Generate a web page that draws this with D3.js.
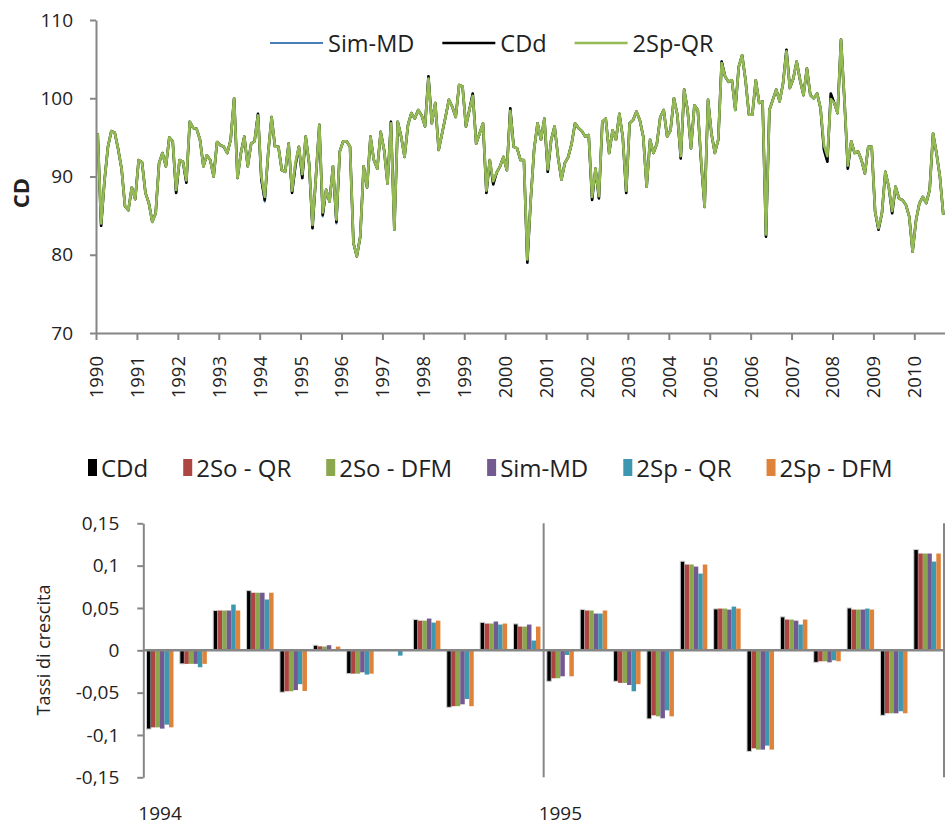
<!DOCTYPE html>
<html>
<head>
<meta charset="utf-8">
<script src="https://cdn.jsdelivr.net/npm/d3@7"></script>
<style>
  body { margin: 0; background: #fff; }
  svg { display: block; }
  text { font-family: "Open Sans", sans-serif; fill: #222; }
</style>
</head>
<body>
<svg id="chart" width="945" height="825"></svg>
<script>
// ---- Monthly CD index, Jan 1990 – Sep 2010 ----
const yearLabels = ["1990","1991","1992","1993","1994","1995","1996","1997","1998","1999","2000",
                    "2001","2002","2003","2004","2005","2006","2007","2008","2009","2010"];
const levelTicks = [70, 80, 90, 100, 110];

const cdd = [
  95.5, 83.7, 89.5, 93.8, 95.8, 95.6, 93.5, 91.0, 86.2, 85.7, 88.6, 87.1,
  92.1, 91.8, 87.9, 86.6, 84.2, 85.3, 91.7, 93.0, 91.3, 95.0, 94.5, 87.9,
  92.1, 91.9, 89.2, 97.0, 96.2, 96.1, 94.7, 91.3, 92.7, 92.1, 90.0, 94.4,
  94.0, 93.8, 93.0, 94.7, 100.0, 89.8, 93.0, 95.1, 91.3, 94.2, 94.5, 98.0,
  89.6, 87.0, 93.0, 97.6, 93.8, 93.8, 90.8, 90.6, 94.2, 87.9, 91.5, 93.8,
  89.8, 95.1, 91.7, 83.4, 90.0, 96.6, 85.1, 88.3, 86.8, 91.3, 84.2, 93.2,
  94.5, 94.5, 93.8, 81.5, 79.8, 82.3, 91.3, 88.6, 95.1, 92.1, 91.0, 95.7,
  93.4, 89.1, 97.0, 83.2, 97.0, 95.1, 92.5, 96.6, 98.1, 97.4, 98.5, 97.8,
  96.4, 102.8, 96.8, 99.4, 93.4, 95.5, 97.6, 99.8, 98.9, 97.6, 101.7, 101.5,
  96.4, 98.5, 100.6, 94.2, 95.5, 96.8, 87.9, 92.1, 89.0, 90.5, 91.3, 92.5,
  90.8, 98.7, 93.8, 93.6, 92.1, 92.1, 79.0, 87.0, 93.5, 96.8, 94.7, 97.4,
  90.6, 94.7, 96.4, 92.5, 89.6, 91.7, 92.5, 94.2, 96.8, 96.2, 95.8, 95.1,
  95.3, 87.0, 91.0, 87.2, 97.0, 97.4, 93.0, 95.9, 94.7, 98.0, 95.0, 87.9,
  96.8, 97.2, 98.3, 97.2, 95.1, 88.7, 94.7, 93.0, 94.2, 97.6, 98.5, 95.1,
  95.9, 100.0, 97.9, 92.3, 101.1, 98.5, 93.6, 99.1, 98.5, 91.7, 86.1, 99.8,
  95.5, 93.0, 94.7, 104.7, 102.8, 102.1, 102.3, 98.5, 104.0, 105.5, 102.3, 97.9,
  97.9, 102.3, 99.4, 99.6, 82.3, 98.5, 99.8, 101.1, 99.6, 101.9, 106.2, 101.3,
  102.5, 104.7, 102.3, 100.4, 103.8, 100.4, 100.0, 100.6, 98.7, 93.4, 91.9, 100.6,
  99.4, 98.1, 107.5, 99.8, 91.0, 94.5, 93.0, 93.2, 92.1, 90.4, 93.8, 93.8,
  85.5, 83.2, 85.3, 90.6, 88.7, 85.3, 88.7, 87.2, 87.0, 86.4, 84.9, 80.4,
  84.4, 86.6, 87.4, 86.6, 88.3, 95.5, 93.0, 90.0, 85.1
];

const simMd = [
  95.5, 83.7, 89.5, 93.8, 95.8, 95.6, 93.5, 91.0, 86.2, 85.7, 88.6, 87.1,
  92.1, 91.8, 87.9, 86.6, 84.2, 85.3, 91.7, 93.0, 91.3, 95.0, 94.5, 87.9,
  92.1, 91.9, 89.2, 97.0, 96.2, 96.1, 94.7, 91.3, 92.7, 92.1, 90.0, 94.4,
  94.0, 93.8, 93.0, 94.7, 100.0, 89.8, 93.0, 95.1, 91.3, 94.2, 94.5, 98.0,
  89.6, 86.8, 93.0, 97.6, 93.8, 93.8, 90.8, 90.6, 94.2, 87.9, 91.2, 93.8,
  89.8, 95.1, 91.7, 83.4, 90.0, 96.6, 84.9, 88.3, 86.8, 91.3, 84.0, 93.2,
  94.5, 94.5, 93.8, 81.5, 79.8, 82.3, 91.3, 88.6, 95.1, 92.1, 91.0, 95.7,
  93.4, 89.1, 97.0, 83.2, 97.0, 95.1, 92.5, 96.6, 98.1, 97.4, 98.5, 97.8,
  96.4, 102.8, 96.8, 99.4, 93.4, 95.5, 97.6, 99.8, 98.9, 97.6, 101.7, 101.5,
  96.4, 98.5, 100.6, 94.2, 95.5, 96.8, 87.9, 92.1, 89.0, 90.5, 91.3, 92.5,
  90.8, 98.7, 93.8, 93.6, 92.1, 92.1, 79.0, 87.0, 93.5, 96.8, 94.7, 97.4,
  90.6, 94.7, 96.4, 92.5, 89.6, 91.7, 92.5, 94.2, 96.8, 96.2, 95.8, 95.1,
  95.3, 87.0, 91.0, 87.2, 97.0, 97.4, 93.0, 95.9, 94.7, 98.0, 95.0, 87.9,
  96.8, 97.2, 98.3, 97.2, 95.1, 88.7, 94.7, 93.0, 94.2, 97.6, 98.5, 95.1,
  95.9, 100.0, 97.9, 92.3, 101.1, 98.5, 93.6, 99.1, 98.5, 91.7, 86.1, 99.8,
  95.5, 93.0, 94.7, 104.7, 102.8, 102.1, 102.3, 98.5, 104.0, 105.5, 102.3, 97.9,
  97.9, 102.3, 99.4, 99.6, 82.3, 98.5, 99.8, 101.1, 99.6, 101.9, 106.2, 101.3,
  102.5, 104.7, 102.3, 100.4, 103.8, 100.4, 100.0, 100.6, 98.7, 93.4, 91.9, 100.6,
  99.4, 98.1, 107.5, 99.8, 91.0, 94.5, 93.0, 93.2, 92.1, 90.4, 93.8, 93.8,
  85.5, 83.2, 85.3, 90.6, 88.7, 85.3, 88.7, 87.2, 87.0, 86.4, 84.9, 80.4,
  84.4, 86.6, 87.4, 86.6, 88.3, 95.5, 93.0, 90.0, 85.1
];

const sp2Qr = [
  95.5, 84.0, 89.5, 93.8, 95.8, 95.6, 93.5, 91.0, 86.2, 85.7, 88.6, 87.1,
  92.1, 91.8, 87.9, 86.6, 84.2, 85.3, 91.7, 93.0, 91.3, 95.0, 94.5, 88.3,
  92.1, 91.9, 89.5, 97.0, 96.2, 96.1, 94.7, 91.3, 92.7, 92.1, 90.0, 94.4,
  94.0, 93.8, 93.0, 94.7, 100.0, 89.8, 93.0, 95.1, 91.3, 94.2, 94.5, 97.8,
  90.0, 87.4, 93.0, 97.6, 93.8, 93.8, 90.8, 90.6, 94.2, 88.2, 91.8, 93.8,
  90.3, 95.1, 91.7, 83.8, 90.0, 96.6, 85.4, 88.3, 86.8, 91.3, 84.5, 93.2,
  94.5, 94.5, 93.8, 81.5, 79.8, 82.3, 91.3, 88.6, 95.1, 92.1, 91.0, 95.7,
  93.4, 89.1, 96.8, 83.2, 97.0, 95.1, 92.5, 96.6, 98.1, 97.4, 98.5, 97.8,
  96.4, 102.5, 96.8, 99.4, 93.4, 95.5, 97.6, 99.8, 98.9, 97.6, 101.7, 101.5,
  96.4, 98.5, 100.3, 94.2, 95.5, 96.8, 88.2, 92.1, 89.4, 90.5, 91.3, 92.5,
  90.8, 98.4, 93.8, 93.6, 92.1, 92.1, 79.4, 87.0, 93.5, 96.8, 94.7, 97.4,
  90.9, 94.7, 96.4, 92.5, 89.6, 91.7, 92.5, 94.2, 96.8, 96.2, 95.8, 95.1,
  95.3, 87.4, 91.0, 87.5, 97.0, 97.4, 93.0, 95.9, 94.7, 98.0, 95.0, 88.2,
  96.8, 97.2, 98.3, 97.2, 95.1, 88.7, 94.7, 93.0, 94.2, 97.6, 98.5, 95.1,
  95.9, 100.0, 97.9, 92.6, 101.1, 98.5, 93.6, 99.1, 98.5, 92.0, 86.1, 99.8,
  95.5, 93.0, 94.7, 104.5, 102.8, 102.1, 102.3, 98.5, 104.0, 105.5, 102.3, 97.9,
  97.9, 102.3, 99.4, 99.6, 82.6, 98.5, 99.8, 101.1, 99.6, 101.9, 106.0, 101.3,
  102.5, 104.7, 102.3, 100.4, 103.8, 100.4, 100.0, 100.6, 98.7, 94.0, 92.6, 99.9,
  99.4, 98.1, 107.5, 99.8, 91.4, 94.5, 93.0, 93.2, 92.1, 90.4, 93.8, 93.8,
  85.5, 83.4, 85.3, 90.6, 88.7, 85.6, 88.7, 87.2, 87.0, 86.4, 84.9, 80.4,
  84.4, 86.6, 87.4, 86.6, 88.3, 95.5, 93.0, 90.0, 85.1
];

// ---- Monthly growth rates, 1994–1995 ----
const growthYears = ["1994", "1995"];
const growthMonths = ["gen","feb","mar","apr","mag","giu","lug","ago","set","ott","nov","dic",
                      "gen","feb","mar","apr","mag","giu","lug","ago","set","ott","nov","dic"];
const rateTicks = [-0.15, -0.1, -0.05, 0, 0.05, 0.1, 0.15];
const rateTickLabels = ["-0,15", "-0,1", "-0,05", "0", "0,05", "0,1", "0,15"];

const gCDd   = [-0.093, -0.016, 0.047, 0.0705, -0.0495, 0.006, -0.0276, 0, 0.0363, -0.0673, 0.033, 0.0312,
                -0.0366, 0.0481, -0.0366, -0.081, 0.1052, 0.0489, -0.1194, 0.0395, -0.0142, 0.050, -0.0768, 0.119];
const gSoQR  = [-0.091, -0.016, 0.047, 0.068, -0.0484, 0.0047, -0.0276, 0, 0.035, -0.066, 0.0316, 0.028,
                -0.033, 0.047, -0.0385, -0.0768, 0.1013, 0.0493, -0.1158, 0.0363, -0.013, 0.0481, -0.0744, 0.1143];
const gSoDFM = [-0.091, -0.016, 0.047, 0.068, -0.0484, 0.0044, -0.0276, 0, 0.035, -0.066, 0.0316, 0.028,
                -0.033, 0.047, -0.0385, -0.078, 0.1013, 0.0493, -0.1173, 0.0363, -0.013, 0.0481, -0.0744, 0.1143];
const gSimMD = [-0.0925, -0.016, 0.047, 0.068, -0.047, 0.006, -0.026, 0, 0.0375, -0.0638, 0.034, 0.0304,
                -0.0307, 0.0434, -0.041, -0.0803, 0.0989, 0.0481, -0.1173, 0.035, -0.0142, 0.0481, -0.0744, 0.1143];
const gSpQR  = [-0.0878, -0.020, 0.054, 0.060, -0.040, 0, -0.0287, -0.0063, 0.0327, -0.0575, 0.0304, 0.0115,
                -0.0055, 0.0434, -0.0484, -0.0709, 0.0906, 0.0516, -0.1126, 0.0304, -0.0118, 0.0493, -0.072, 0.1048];
const gSpDFM = [-0.091, -0.016, 0.047, 0.068, -0.048, 0.0044, -0.0276, 0, 0.035, -0.066, 0.0316, 0.028,
                -0.0307, 0.047, -0.040, -0.078, 0.1013, 0.0493, -0.1173, 0.0363, -0.013, 0.0481, -0.0744, 0.1143];

const svg = d3.select("#chart");
const axisGrey = "#868686";

function styleAxis(g, fontSize) {
  g.select(".domain").attr("stroke", axisGrey).attr("stroke-width", 2);
  g.selectAll(".tick line").attr("stroke", axisGrey).attr("stroke-width", 2);
  g.selectAll(".tick text").style("font-size", fontSize + "px").attr("fill", "#222");
}

// ================= Line chart =================
const lineSeries = [
  { name: "Sim-MD", values: simMd, color: "#4a7ebb", width: 2.2 },
  { name: "CDd",    values: cdd,   color: "#000000", width: 2.6 },
  { name: "2Sp-QR", values: sp2Qr, color: "#94ba54", width: 2.7 }
];

const x1 = d3.scaleLinear().domain([0, cdd.length]).range([96, 945]);
const y1 = d3.scaleLinear().domain([70, 110]).range([333, 20]);

const line = d3.line()
  .x((d, i) => x1(i + 0.5))
  .y(d => y1(d))
  .curve(d3.curveLinear);

const gLines = svg.append("g");
lineSeries.forEach(s => {
  gLines.append("path")
    .datum(s.values)
    .attr("d", line)
    .attr("fill", "none")
    .attr("stroke", s.color)
    .attr("stroke-width", s.width)
    .attr("stroke-linejoin", "round");
});

const yAxis1 = svg.append("g")
  .attr("transform", "translate(96,0)")
  .call(d3.axisLeft(y1).tickValues(levelTicks).tickSize(6).tickPadding(17).tickSizeOuter(0));
styleAxis(yAxis1, 19);

const xAxis1 = svg.append("g")
  .attr("transform", "translate(0,333)")
  .call(d3.axisBottom(x1)
    .tickValues(yearLabels.map((_, i) => i * 12))
    .tickFormat((d, i) => yearLabels[i])
    .tickSize(7).tickSizeOuter(0));
styleAxis(xAxis1, 18.5);
xAxis1.selectAll(".tick text")
  .attr("transform", "rotate(-90)")
  .attr("x", -23)
  .attr("y", 0)
  .attr("dy", "0.35em")
  .style("text-anchor", "end");

svg.append("text")
  .attr("transform", "translate(29,193) rotate(-90)")
  .attr("text-anchor", "middle")
  .style("font-size", "22px")
  .style("font-weight", "bold")
  .text("CD");

// legend of the line chart
{
  let lx = 270;
  const ly = 43;
  const lg = svg.append("g");
  lineSeries.forEach(s => {
    lg.append("line")
      .attr("x1", lx).attr("x2", lx + 53)
      .attr("y1", ly).attr("y2", ly)
      .attr("stroke", s.color).attr("stroke-width", s.width);
    const t = lg.append("text")
      .attr("x", lx + 58).attr("y", ly + 8.5)
      .style("font-size", "23.5px")
      .text(s.name);
    lx += 58 + t.node().getComputedTextLength() + 28;
  });
}

// ================= Bar chart =================
const barSeries = [
  { name: "CDd",       values: gCDd,   color: "#000000" },
  { name: "2So - QR",  values: gSoQR,  color: "#ad4542" },
  { name: "2So - DFM", values: gSoDFM, color: "#8aa74e" },
  { name: "Sim-MD",    values: gSimMD, color: "#72598f" },
  { name: "2Sp - QR",  values: gSpQR,  color: "#3e97b1" },
  { name: "2Sp - DFM", values: gSpDFM, color: "#e0833a" }
];

const x2 = d3.scaleBand()
  .domain(d3.range(growthMonths.length))
  .range([143.3, 944])
  .paddingInner(0.19)
  .paddingOuter(0.095);
const xs = d3.scaleBand()
  .domain(barSeries.map(s => s.name))
  .range([0, x2.bandwidth()]);
const y2 = d3.scaleLinear().domain([-0.15, 0.15]).range([777.3, 523.3]);
const yearScale = d3.scaleLinear().domain([0, growthMonths.length]).range([143.3, 944]);

const gBars = svg.append("g");
barSeries.forEach(s => {
  gBars.selectAll(null)
    .data(s.values)
    .join("rect")
    .attr("x", (d, i) => x2(i) + xs(s.name))
    .attr("y", d => y2(Math.max(0, d)))
    .attr("width", xs.bandwidth())
    .attr("height", d => Math.abs(y2(d) - y2(0)))
    .attr("fill", s.color)
    .attr("stroke", s.name === "CDd" ? "#cfcfcf" : "none")
    .attr("stroke-width", 1);
});

// year separators
[12, 24].forEach(m => {
  svg.append("line")
    .attr("x1", yearScale(m)).attr("x2", yearScale(m))
    .attr("y1", y2(0.15)).attr("y2", y2(-0.15))
    .attr("stroke", axisGrey).attr("stroke-width", 2);
});

// zero line
svg.append("line")
  .attr("x1", 143.3).attr("x2", 945)
  .attr("y1", y2(0)).attr("y2", y2(0))
  .attr("stroke", axisGrey).attr("stroke-width", 2.5);

const yAxis2 = svg.append("g")
  .attr("transform", "translate(143.3,0)")
  .call(d3.axisLeft(y2).tickValues(rateTicks)
    .tickFormat((d, i) => rateTickLabels[i])
    .tickSize(6).tickPadding(18).tickSizeOuter(0));
styleAxis(yAxis2, 19);

growthYears.forEach((yr, k) => {
  svg.append("text")
    .attr("x", yearScale(k * 12) - 5)
    .attr("y", 820)
    .style("font-size", "19px")
    .text(yr);
});

svg.append("text")
  .attr("transform", "translate(50,650) rotate(-90)")
  .attr("text-anchor", "middle")
  .style("font-size", "18px")
  .text("Tassi di crescita");

// legend of the bar chart
{
  let lx = 88;
  const ly = 468;
  const lg = svg.append("g");
  barSeries.forEach(s => {
    lg.append("rect")
      .attr("x", lx).attr("y", ly - 9)
      .attr("width", 9).attr("height", 17)
      .attr("fill", s.color);
    const t = lg.append("text")
      .attr("x", lx + 13).attr("y", ly + 8.5)
      .style("font-size", "24px")
      .text(s.name);
    lx += 13 + t.node().getComputedTextLength() + 35;
  });
}
</script>
</body>
</html>
